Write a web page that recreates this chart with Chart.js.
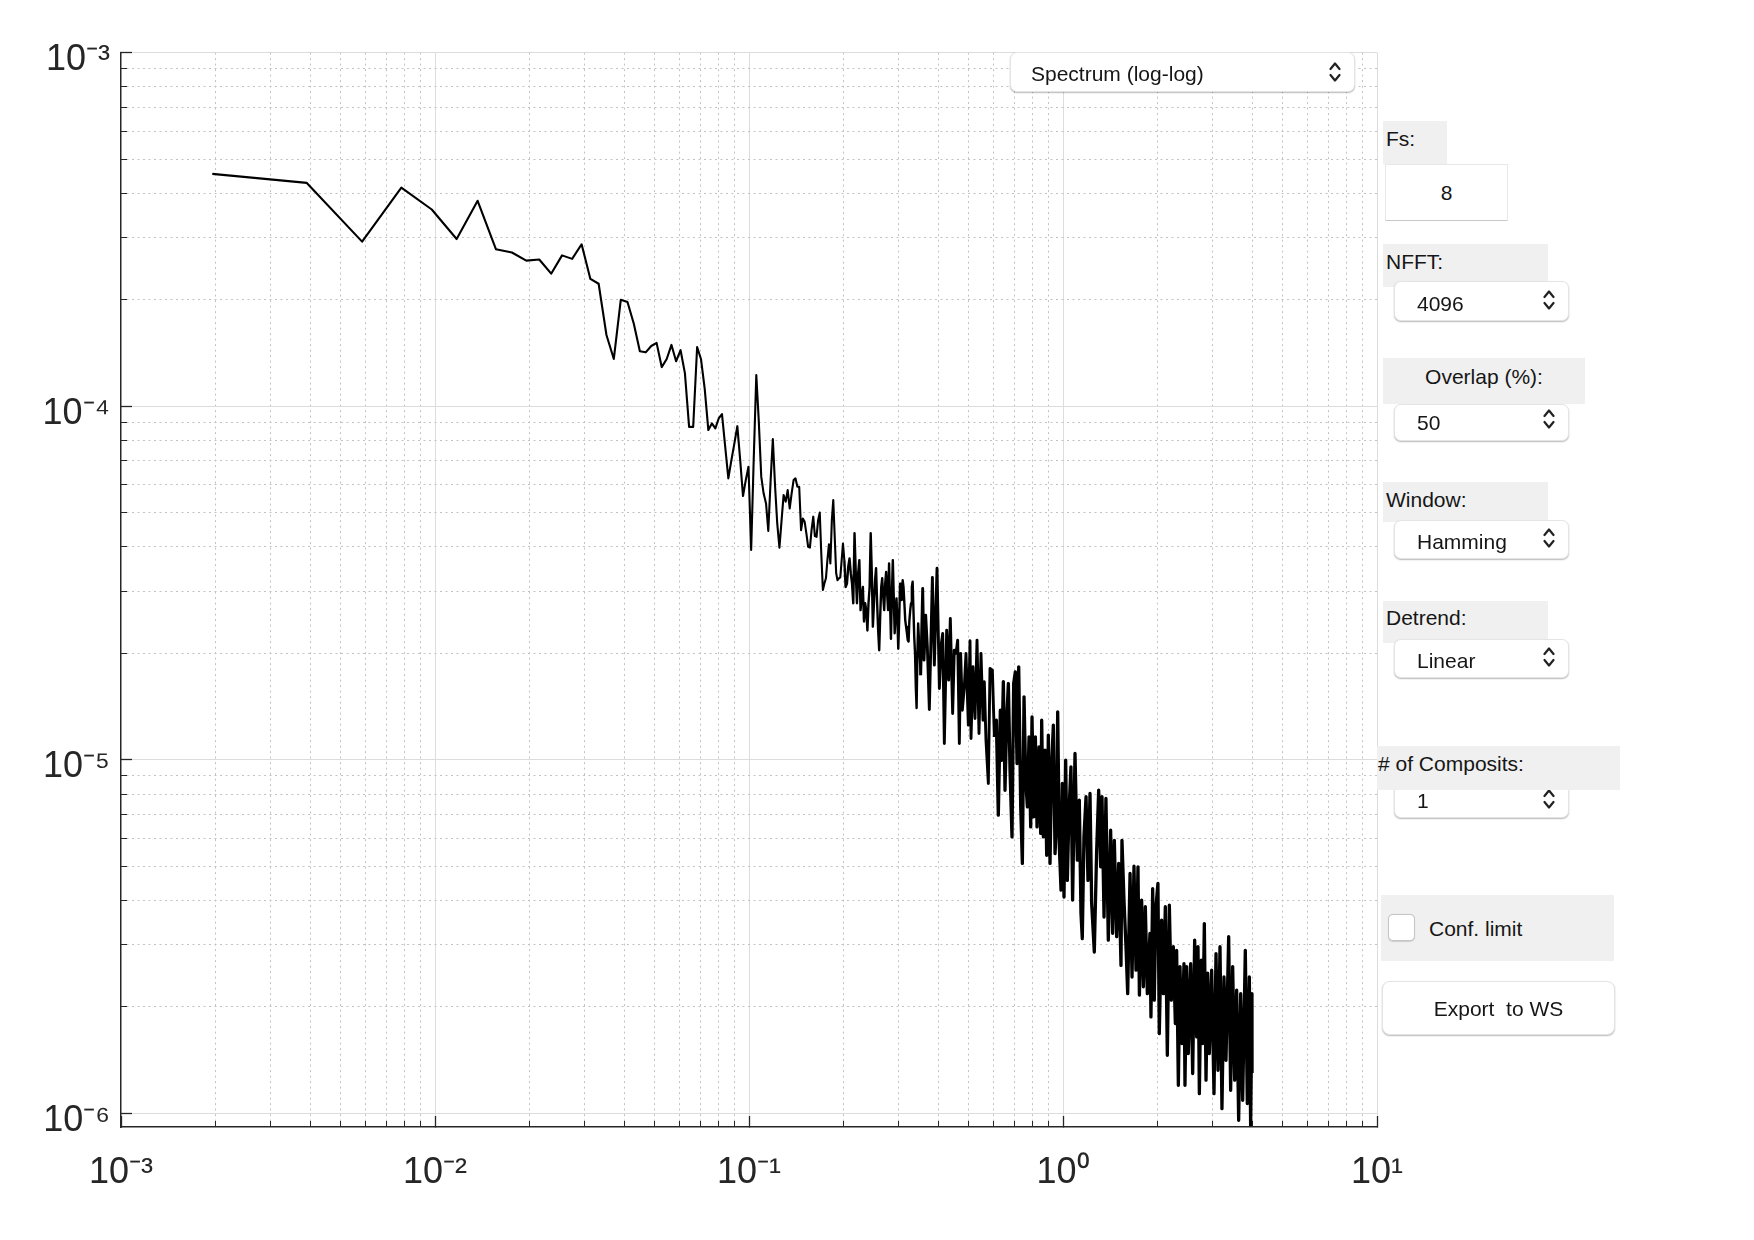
<!DOCTYPE html>
<html>
<head>
<meta charset="utf-8">
<script src="https://cdn.jsdelivr.net/npm/chart.js@4.4.1/dist/chart.umd.min.js"></script>
<style>
html,body{margin:0;padding:0;background:#fff;}
body{width:1754px;height:1240px;position:relative;overflow:hidden;font-family:"Liberation Sans",Arial,Helvetica,sans-serif;color:#161616;}
#c{position:absolute;left:0;top:0;}
.w{position:absolute;box-sizing:border-box;font-size:21px;z-index:2;}
.t{position:absolute;white-space:pre;}
.lbl{background:#f0f0f0;z-index:2;}
.pop{background:#fff;border-radius:7px;border:1px solid #e4e4e4;box-shadow:0 1px 1.5px rgba(0,0,0,0.28);z-index:3;}
.chev{position:absolute;}
.edit{background:#fff;border:1px solid #e8e8e8;border-bottom:1.5px solid #c9c9c9;z-index:3;}
</style>
</head>
<body>
<canvas id="c" width="1754" height="1240"></canvas>

<div class="w pop" style="left:1010px;top:52px;width:345px;height:40px;">
  <span class="t" style="left:20px;top:0.5px;line-height:40px;">Spectrum (log-log)</span>
  <svg class="chev" style="left:318px;top:7px" width="12" height="24" viewBox="0 0 12 24"><polyline points="1.5,9 6,3.5 10.5,9" fill="none" stroke="#222" stroke-width="2.2" stroke-linecap="round" stroke-linejoin="round"/><polyline points="1.5,15 6,20.5 10.5,15" fill="none" stroke="#222" stroke-width="2.2" stroke-linecap="round" stroke-linejoin="round"/></svg>
</div>

<div class="w lbl" style="left:1383px;top:121px;width:64px;height:43px;"><span class="t" style="left:3px;top:0;line-height:36px;">Fs:</span></div>
<div class="w edit" style="left:1385px;top:164px;width:123px;height:57px;"><span class="t" style="left:0;width:121px;text-align:center;top:0;line-height:56px;">8</span></div>

<div class="w lbl" style="left:1383px;top:244px;width:165px;height:43px;"><span class="t" style="left:3px;top:0;line-height:36px;">NFFT:</span></div>
<div class="w pop" style="left:1394px;top:281px;width:175px;height:40px;">
  <span class="t" style="left:22px;top:2px;line-height:40px;">4096</span>
  <svg class="chev" style="left:148px;top:6px" width="12" height="24" viewBox="0 0 12 24"><polyline points="1.5,9 6,3.5 10.5,9" fill="none" stroke="#222" stroke-width="2.2" stroke-linecap="round" stroke-linejoin="round"/><polyline points="1.5,15 6,20.5 10.5,15" fill="none" stroke="#222" stroke-width="2.2" stroke-linecap="round" stroke-linejoin="round"/></svg>
</div>

<div class="w lbl" style="left:1383px;top:358px;width:202px;height:46px;"><span class="t" style="left:0;width:202px;text-align:center;top:1px;line-height:36px;">Overlap (%):</span></div>
<div class="w pop" style="left:1394px;top:404px;width:175px;height:37px;">
  <span class="t" style="left:22px;top:-1px;line-height:37px;">50</span>
  <svg class="chev" style="left:148px;top:2px" width="12" height="24" viewBox="0 0 12 24"><polyline points="1.5,9 6,3.5 10.5,9" fill="none" stroke="#222" stroke-width="2.2" stroke-linecap="round" stroke-linejoin="round"/><polyline points="1.5,15 6,20.5 10.5,15" fill="none" stroke="#222" stroke-width="2.2" stroke-linecap="round" stroke-linejoin="round"/></svg>
</div>

<div class="w lbl" style="left:1383px;top:482px;width:165px;height:40px;"><span class="t" style="left:3px;top:0;line-height:36px;">Window:</span></div>
<div class="w pop" style="left:1394px;top:520px;width:175px;height:39px;">
  <span class="t" style="left:22px;top:0.5px;line-height:39px;">Hamming</span>
  <svg class="chev" style="left:148px;top:5px" width="12" height="24" viewBox="0 0 12 24"><polyline points="1.5,9 6,3.5 10.5,9" fill="none" stroke="#222" stroke-width="2.2" stroke-linecap="round" stroke-linejoin="round"/><polyline points="1.5,15 6,20.5 10.5,15" fill="none" stroke="#222" stroke-width="2.2" stroke-linecap="round" stroke-linejoin="round"/></svg>
</div>

<div class="w lbl" style="left:1383px;top:601px;width:165px;height:42px;"><span class="t" style="left:3px;top:-1.5px;line-height:36px;">Detrend:</span></div>
<div class="w pop" style="left:1394px;top:639px;width:175px;height:39px;">
  <span class="t" style="left:22px;top:0.5px;line-height:39px;">Linear</span>
  <svg class="chev" style="left:148px;top:5px" width="12" height="24" viewBox="0 0 12 24"><polyline points="1.5,9 6,3.5 10.5,9" fill="none" stroke="#222" stroke-width="2.2" stroke-linecap="round" stroke-linejoin="round"/><polyline points="1.5,15 6,20.5 10.5,15" fill="none" stroke="#222" stroke-width="2.2" stroke-linecap="round" stroke-linejoin="round"/></svg>
</div>

<div class="w pop" style="left:1394px;top:780px;width:175px;height:38px;">
  <span class="t" style="left:22px;top:1px;line-height:38px;">1</span>
  <svg class="chev" style="left:148px;top:6px" width="12" height="24" viewBox="0 0 12 24"><polyline points="1.5,9 6,3.5 10.5,9" fill="none" stroke="#222" stroke-width="2.2" stroke-linecap="round" stroke-linejoin="round"/><polyline points="1.5,15 6,20.5 10.5,15" fill="none" stroke="#222" stroke-width="2.2" stroke-linecap="round" stroke-linejoin="round"/></svg>
</div>
<div class="w lbl" style="left:1377px;top:746px;width:243px;height:44px;z-index:4;"><span class="t" style="left:1px;top:0;line-height:36px;"># of Composits:</span></div>

<div class="w lbl" style="left:1381px;top:895px;width:233px;height:66px;">
  <div style="position:absolute;left:7px;top:19px;width:27px;height:27px;box-sizing:border-box;background:#fff;border:1px solid #c6c6c6;border-radius:5px;box-shadow:0 0.5px 1px rgba(0,0,0,0.15);"></div>
  <span class="t" style="left:48px;top:15.5px;line-height:36px;">Conf. limit</span>
</div>

<div class="w pop" style="left:1382px;top:981px;width:233px;height:54px;border-radius:8px;">
  <span class="t" style="left:0;width:231px;text-align:center;top:0;line-height:53px;">Export  to WS</span>
</div>

<script>
// ---- Tick definitions ----
const xMajorTicks = [0.001, 0.01, 0.1, 1, 10];
const xTickLabels = ['10\u207B\u00B3', '10\u207B\u00B2', '10\u207B\u00B9', '10\u2070', '10\u00B9'];
const xMinorTicks = [0.002,0.003,0.004,0.005,0.006,0.007,0.008,0.009,
                     0.02,0.03,0.04,0.05,0.06,0.07,0.08,0.09,
                     0.2,0.3,0.4,0.5,0.6,0.7,0.8,0.9,
                     2,3,4,5,6,7,8,9];
const yMajorTicks = [1e-6, 1e-5, 1e-4, 1e-3];
const yTickLabels = ['10\u207B\u2076', '10\u207B\u2075', '10\u207B\u2074', '10\u207B\u00B3'];
const yMinorTicks = [2e-6,3e-6,4e-6,5e-6,6e-6,7e-6,8e-6,9e-6,
                     2e-5,3e-5,4e-5,5e-5,6e-5,7e-5,8e-5,9e-5,
                     2e-4,3e-4,4e-4,5e-4,6e-4,7e-4,8e-4,9e-4];
const xRange = [0.001, 10];
const yRange = [9.15e-7, 0.001];

// ---- Spectrum (frequency in Hz, power spectral density) ----
const freqHz = [
  0.001953,0.003906,0.005859,0.007813,0.009766,0.01172,0.01367,0.01563,0.01758,0.01953,
  0.02148,0.02344,0.02539,0.02734,0.02930,0.03125,0.03320,0.03516,0.03711,0.03906,
  0.04102,0.04297,0.04492,0.04688,0.04883,0.05078,0.05273,0.05469,0.05664,0.05859,
  0.06055,0.06250,0.06445,0.06641,0.06836,0.07031,0.07227,0.07422,0.07617,0.07813,
  0.08008,0.08203,0.08398,0.08594,0.08789,0.08984,0.09180,0.09375,0.09570,0.09766,
  0.09961,0.1016,0.1035,0.1055,0.1074,0.1094,0.1113,0.1133,0.1152,0.1172,
  0.1191,0.1211,0.1230,0.1250,0.1270,0.1289,0.1309,0.1328,0.1348,0.1367,
  0.1387,0.1406,0.1426,0.1445,0.1465,0.1484,0.1504,0.1523,0.1543,0.1563,
  0.1582,0.1602,0.1621,0.1641,0.1660,0.1680,0.1699,0.1719,0.1738,0.1758,
  0.1777,0.1797,0.1816,0.1836,0.1855,0.1875,0.1895,0.1914,0.1934,0.1953,
  0.1973,0.1992,0.2012,0.2031,0.2051,0.2070,0.2090,0.2109,0.2129,0.2148,
  0.2168,0.2188,0.2207,0.2227,0.2246,0.2266,0.2285,0.2305,0.2324,0.2344,
  0.2363,0.2383,0.2402,0.2422,0.2441,0.2461,0.2480,0.2500,0.2520,0.2539,
  0.2559,0.2578,0.2598,0.2617,0.2637,0.2656,0.2676,0.2695,0.2715,0.2734,
  0.2754,0.2773,0.2793,0.2813,0.2832,0.2852,0.2871,0.2891,0.2910,0.2930,
  0.2949,0.2969,0.2988,0.3008,0.3027,0.3047,0.3066,0.3086,0.3105,0.3125,
  0.3145,0.3164,0.3184,0.3203,0.3223,0.3242,0.3262,0.3281,0.3301,0.3320,
  0.3340,0.3359,0.3379,0.3398,0.3418,0.3438,0.3457,
  0.3522,0.3574,0.3609,0.3653,0.3698,0.3753,0.3837,0.3893,0.3970,0.4039,
  0.4098,0.4139,0.4189,0.4261,0.4324,0.4377,0.4452,0.4506,
  0.4563,0.4619,0.4676,0.4721,0.4780,0.4850,0.4910,0.4995,0.5057,0.5094,
  0.5169,0.5245,0.5323,0.5401,0.5481,0.5562,0.5616,0.5685,0.5784,0.5855,
  0.5957,0.6045,0.6134,0.6223,0.6316,0.6377,0.6457,0.6536,0.6616,0.6699,
  0.6781,0.6880,0.6965,0.7050,0.7139,0.7227,0.7333,0.7423,0.7514,0.7608,
  0.7701,0.7795,0.7891,0.7968,0.8066,0.8166,0.8266,0.8388,0.8490,0.8553,
  0.8658,0.8764,0.8872,0.8981,0.9092,0.9204,0.9317,0.9432,0.9548,0.9618,
  0.9736,0.9856,0.9952,1.0074,1.0198,1.0323,1.0452,
  1.060,1.073,1.092,1.111,1.127,1.141,1.152,1.166,1.184,1.201,
  1.219,1.234,1.258,1.280,1.299,1.318,1.331,1.351,1.370,1.394,
  1.418,1.439,1.457,1.482,1.504,1.530,1.541,1.564,1.587,1.607,
  1.635,1.659,1.683,1.708,1.733,1.751,1.780,1.803,1.829,1.856,
  1.892,1.906,1.930,1.953,1.977,2.006,2.026,2.061,2.087,2.118,
  2.149,2.181,2.213,2.246,2.279,2.301,2.330,2.358,2.393,2.428,
  2.446,2.476,2.506,2.550,2.588,2.626,2.665,2.691,2.718,2.757,
  2.785,2.819,2.854,2.889,2.924,2.975,3.026,3.071,3.116,3.162,
  3.208,3.256,3.304,3.370,3.419,3.470,3.522,3.573,3.626,3.680,
  3.734,3.807,3.864,3.921,3.959,3.998,4.000
];
const psd = [
  4.54e-4,4.28e-4,2.92e-4,4.15e-4,3.60e-4,2.97e-4,3.81e-4,2.78e-4,2.72e-4,2.58e-4,
  2.60e-4,2.37e-4,2.67e-4,2.61e-4,2.87e-4,2.29e-4,2.22e-4,1.59e-4,1.36e-4,2.00e-4,
  1.97e-4,1.71e-4,1.43e-4,1.42e-4,1.48e-4,1.51e-4,1.29e-4,1.36e-4,1.49e-4,1.34e-4,
  1.44e-4,1.24e-4,8.74e-5,8.74e-5,1.47e-4,1.36e-4,1.12e-4,8.56e-5,8.94e-5,8.65e-5,
  9.23e-5,9.50e-5,7.68e-5,6.25e-5,7.04e-5,7.85e-5,8.78e-5,7.04e-5,5.57e-5,6.18e-5,
  6.74e-5,3.92e-5,7.04e-5,1.225e-4,9.13e-5,6.32e-5,5.67e-5,5.31e-5,4.44e-5,6.18e-5,
  8.07e-5,5.92e-5,4.66e-5,3.98e-5,4.76e-5,5.61e-5,5.37e-5,5.79e-5,5.14e-5,5.67e-5,
  6.18e-5,6.25e-5,5.92e-5,5.92e-5,4.46e-5,4.81e-5,4.71e-5,4.37e-5,4.00e-5,3.98e-5,
  4.46e-5,4.87e-5,4.29e-5,4.27e-5,4.76e-5,5.00e-5,3.83e-5,3.02e-5,3.15e-5,3.26e-5,
  3.67e-5,4.07e-5,3.59e-5,4.76e-5,5.43e-5,4.27e-5,3.37e-5,3.22e-5,3.26e-5,3.28e-5,
  3.67e-5,4.09e-5,3.67e-5,3.08e-5,3.15e-5,3.51e-5,3.71e-5,3.37e-5,3.15e-5,2.77e-5,
  4.37e-5,3.37e-5,2.77e-5,3.37e-5,3.67e-5,2.65e-5,2.89e-5,3.08e-5,2.46e-5,2.77e-5,
  2.65e-5,2.32e-5,2.77e-5,3.08e-5,4.37e-5,3.37e-5,2.38e-5,2.77e-5,3.22e-5,3.48e-5,
  2.77e-5,2.33e-5,2.04e-5,2.54e-5,3.08e-5,3.26e-5,2.89e-5,2.65e-5,3.15e-5,3.40e-5,
  2.95e-5,2.65e-5,3.59e-5,2.77e-5,2.20e-5,2.95e-5,3.67e-5,2.89e-5,2.28e-5,2.59e-5,
  2.86e-5,2.48e-5,2.06e-5,2.48e-5,3.15e-5,2.95e-5,2.83e-5,3.22e-5,3.08e-5,2.77e-5,
  2.48e-5,2.38e-5,2.28e-5,2.18e-5,2.16e-5,2.48e-5,2.65e-5,2.77e-5,3.08e-5,3.19e-5,
  2.65e-5,2.23e-5,2.00e-5,1.61e-5,1.40e-5,2.00e-5,2.43e-5,
  1.735e-5,3.05e-5,1.913e-5,2.565e-5,2.087e-5,1.387e-5,3.28e-5,1.852e-5,3.48e-5,1.590e-5,
  2.133e-5,2.276e-5,1.112e-5,2.326e-5,1.680e-5,2.51e-5,1.352e-5,2.042e-5,
  2.00e-5,2.18e-5,1.112e-5,2.00e-5,1.381e-5,1.608e-5,2.00e-5,1.253e-5,2.17e-5,1.149e-5,
  1.832e-5,1.308e-5,2.18e-5,1.187e-5,2.00e-5,1.294e-5,1.662e-5,1.136e-5,8.57e-6,1.813e-5,
  1.793e-5,1.161e-5,1.294e-5,6.97e-6,1.381e-5,9.97e-6,1.662e-5,8.20e-6,1.294e-5,1.643e-5,
  9.35e-6,6.05e-6,1.643e-5,1.773e-5,9.76e-6,1.832e-5,7.36e-6,5.09e-6,1.507e-5,8.76e-6,
  7.36e-6,1.161e-5,6.46e-6,1.322e-5,6.90e-6,1.161e-5,6.46e-6,1.088e-5,6.19e-6,1.294e-5,
  6.05e-6,1.065e-5,5.37e-6,1.174e-5,5.09e-6,9.76e-6,1.253e-5,5.43e-6,6.75e-6,1.366e-5,
  5.67e-6,4.28e-6,8.57e-6,4.09e-6,9.97e-6,4.56e-6,7.20e-6,
  9.55e-6,4.01e-6,1.042e-5,5.20e-6,7.69e-6,3.67e-6,3.12e-6,6.05e-6,7.86e-6,4.56e-6,
  8.03e-6,3.92e-6,2.86e-6,5.55e-6,8.20e-6,4.98e-6,7.86e-6,3.59e-6,7.77e-6,3.09e-6,
  6.32e-6,3.23e-6,5.92e-6,3.16e-6,5.09e-6,2.62e-6,5.92e-6,4.01e-6,2.96e-6,2.18e-6,
  4.77e-6,2.43e-6,5.00e-6,2.54e-6,4.98e-6,2.16e-6,4.01e-6,2.28e-6,3.84e-6,2.18e-6,
  3.23e-6,1.874e-6,4.32e-6,2.09e-6,3.84e-6,4.47e-6,1.681e-6,3.52e-6,2.18e-6,3.84e-6,
  1.460e-6,3.88e-6,2.09e-6,2.96e-6,1.795e-6,2.89e-6,1.201e-6,2.60e-6,1.576e-6,2.65e-6,
  1.201e-6,2.60e-6,1.476e-6,2.65e-6,1.296e-6,3.09e-6,1.645e-6,2.96e-6,1.137e-6,2.71e-6,
  1.576e-6,3.44e-6,1.241e-6,2.49e-6,1.476e-6,2.54e-6,1.137e-6,2.83e-6,1.324e-6,2.96e-6,
  1.031e-6,2.43e-6,1.413e-6,3.16e-6,1.162e-6,2.60e-6,1.241e-6,2.23e-6,9.56e-7,2.18e-6,
  1.089e-6,2.89e-6,1.066e-6,2.43e-6,9.15e-7,2.18e-6,1.30e-6
];

const n = Math.min(freqHz.length, psd.length);
const points = [];
for (let i = 0; i < n; i++) points.push({x: freqHz[i], y: psd[i]});

const FONT = "'Liberation Sans', Arial, Helvetica, sans-serif";
const AXIS = '#262626';
const MAJOR_GRID = '#dcdcdc';
const MINOR_GRID = '#c2c2c2';

// Line weight: the dense high-frequency part is drawn heavier,
// as the many overlapping strokes of the original render as a solid band.
function segWidth(ctx) {
  const f = ctx.p0.parsed.x;
  if (f < 0.2) return 2.1;
  if (f < 0.35) return 2.4;
  if (f < 0.6) return 2.9;
  return 3.3;
}

function setTicks(list) { return s => { s.ticks = list.map(v => ({value: v})); }; }

new Chart(document.getElementById('c'), {
  type: 'line',
  data: {
    datasets: [{
      data: points,
      borderColor: '#000',
      borderWidth: 2.1,
      borderJoinStyle: 'round',
      pointRadius: 0,
      tension: 0,
      fill: false,
      segment: { borderWidth: segWidth }
    }]
  },
  options: {
    responsive: false,
    animation: false,
    devicePixelRatio: 1,
    events: [],
    layout: { padding: { left: 0, top: 52.6, right: 377, bottom: 0 } },
    plugins: { legend: { display: false }, tooltip: { enabled: false } },
    scales: {
      x: {
        type: 'logarithmic', position: 'bottom', weight: 1,
        min: xRange[0], max: xRange[1],
        afterBuildTicks: setTicks(xMajorTicks),
        afterFit: s => { s.height = 113; },
        grid: { color: ctx => (ctx.index === 0 ? 'rgba(0,0,0,0)' : MAJOR_GRID), lineWidth: 1,
                tickLength: -11, tickColor: AXIS, tickWidth: 1.3 },
        border: { display: true, color: AXIS, width: 1.5, z: 1 },
        ticks: { autoSkip: false, maxRotation: 0, minRotation: 0, padding: 35.5, color: AXIS,
                 font: { family: FONT, size: 36 },
                 callback: (v, i) => xTickLabels[i] }
      },
      x2: {
        type: 'logarithmic', position: 'bottom', weight: 0,
        min: xRange[0], max: xRange[1],
        afterBuildTicks: setTicks(xMinorTicks),
        afterFit: s => { s.height = 0; },
        grid: { color: MINOR_GRID, lineWidth: 1, tickLength: -6, tickColor: AXIS, tickWidth: 1 },
        border: { display: false, dash: [2, 3.5] },
        ticks: { display: false }
      },
      y: {
        type: 'logarithmic', position: 'left', weight: 1,
        min: yRange[0], max: yRange[1],
        afterBuildTicks: setTicks(yMajorTicks),
        afterFit: s => { s.width = 121; },
        grid: { color: MAJOR_GRID, lineWidth: 1, tickLength: -11, tickColor: AXIS, tickWidth: 1.3 },
        border: { display: true, color: AXIS, width: 1.5, z: 1 },
        ticks: { autoSkip: false, padding: 22, labelOffset: 7.5, color: AXIS,
                 font: { family: FONT, size: 36 },
                 callback: (v, i) => yTickLabels[i] }
      },
      y2: {
        type: 'logarithmic', position: 'left', weight: 0,
        min: yRange[0], max: yRange[1],
        afterBuildTicks: setTicks(yMinorTicks),
        afterFit: s => { s.width = 0; },
        grid: { color: MINOR_GRID, lineWidth: 1, tickLength: -6, tickColor: AXIS, tickWidth: 1 },
        border: { display: false, dash: [2, 3.5] },
        ticks: { display: false }
      }
    }
  }
});
</script>
</body>
</html>
